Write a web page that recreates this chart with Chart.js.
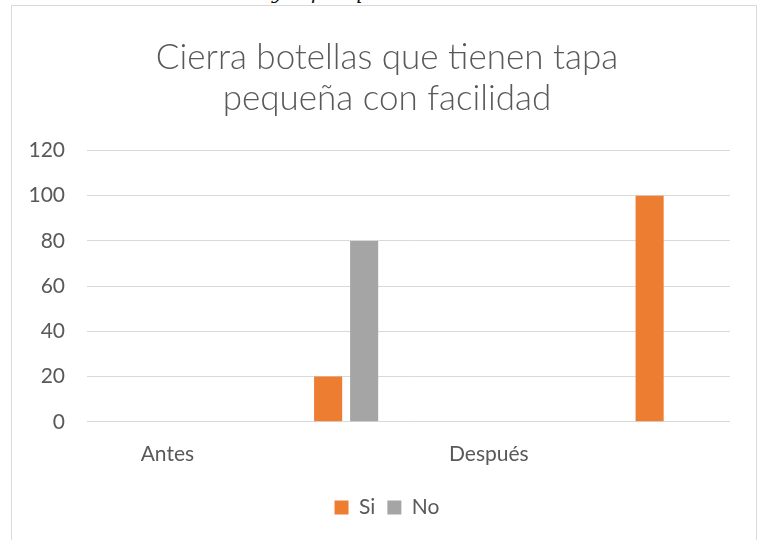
<!DOCTYPE html>
<html>
<head>
<meta charset="utf-8">
<script src="https://cdn.jsdelivr.net/npm/chart.js@4.4.0/dist/chart.umd.min.js"></script>
<style>
  body { margin: 0; background: #fff; }
  #frame {
    position: absolute; left: 11px; top: 5px; width: 746px; height: 560px;
    border: 1px solid #d9d9d9; box-sizing: border-box;
  }
  #chart { position: absolute; left: 0; top: 0; }
  /* restos del texto del documento cortado arriba */
  #recorte { position: absolute; left: 0; top: 0; width: 763px; height: 4px; overflow: hidden; }
  #recorte span {
    position: absolute; top: -20px; font: italic 20px "DejaVu Serif", serif; color: #111;
  }
</style>
</head>
<body>
<div id="recorte"><span style="left:272px">y</span><span style="left:311px">p</span><span style="left:350px">q</span></div>
<div id="frame"></div>
<canvas id="chart" width="763" height="540"></canvas>
<script>
// Datos del gráfico
const categorias = ['Antes', '', 'Después', ''];
const vacio = [null, null, null, null]; // serie vacía que ocupa el primer hueco del grupo
const si = [0, 20, 0, 100];
const no = [0, 80, 0, 0];
const ticksY = [0, 20, 40, 60, 80, 100, 120];

const gris = '#595959';
const fuente = 'Lato, "Open Sans", sans-serif';

// el eje Y es estrecho para centrar título y leyenda; se amplía su zona de recorte
const ejeSinRecorte = {
  id: 'ejeSinRecorte',
  afterLayout(chart) { chart.scales.y.left = 0; }
};

const ctx = document.getElementById('chart').getContext('2d');
new Chart(ctx, {
  type: 'bar',
  data: {
    labels: categorias,
    datasets: [
      { label: '', data: vacio, backgroundColor: 'rgba(0,0,0,0)' },
      { label: 'Si', data: si, backgroundColor: '#ED7D31' },
      { label: 'No', data: no, backgroundColor: '#A5A5A5' }
    ]
  },
  plugins: [ejeSinRecorte],
  options: {
    responsive: false,
    animation: false,
    categoryPercentage: 0.672,
    barPercentage: 0.78,
    layout: { padding: { left: 44, right: 33, top: 0, bottom: 12 } },
    plugins: {
      title: {
        display: true,
        text: ['Cierra botellas que tienen tapa', 'pequeña con facilidad'],
        color: gris,
        font: { family: fuente, size: 35, weight: '300', lineHeight: 1.15 },
        padding: { top: 38, bottom: 32 }
      },
      legend: {
        position: 'bottom',
        labels: {
          filter: (item) => item.text !== '',
          color: gris,
          font: { family: fuente, size: 21 },
          boxWidth: 14,
          boxHeight: 14,
          padding: 12
        }
      },
      tooltip: { enabled: false }
    },
    scales: {
      x: {
        afterFit: (scale) => { scale.height += 6; },
        grid: { display: false },
        border: { display: false },
        ticks: { color: gris, font: { family: fuente, size: 21 }, padding: 12, maxRotation: 0 }
      },
      y: {
        min: 0,
        max: 120,
        afterFit: (scale) => { scale.width = 43; },
        afterBuildTicks: (scale) => { scale.ticks = ticksY.map(v => ({ value: v })); },
        grid: { color: '#d9d9d9', drawTicks: false },
        border: { display: false },
        ticks: { color: gris, font: { family: fuente, size: 21 }, padding: 22 }
      }
    }
  }
});
</script>
</body>
</html>
